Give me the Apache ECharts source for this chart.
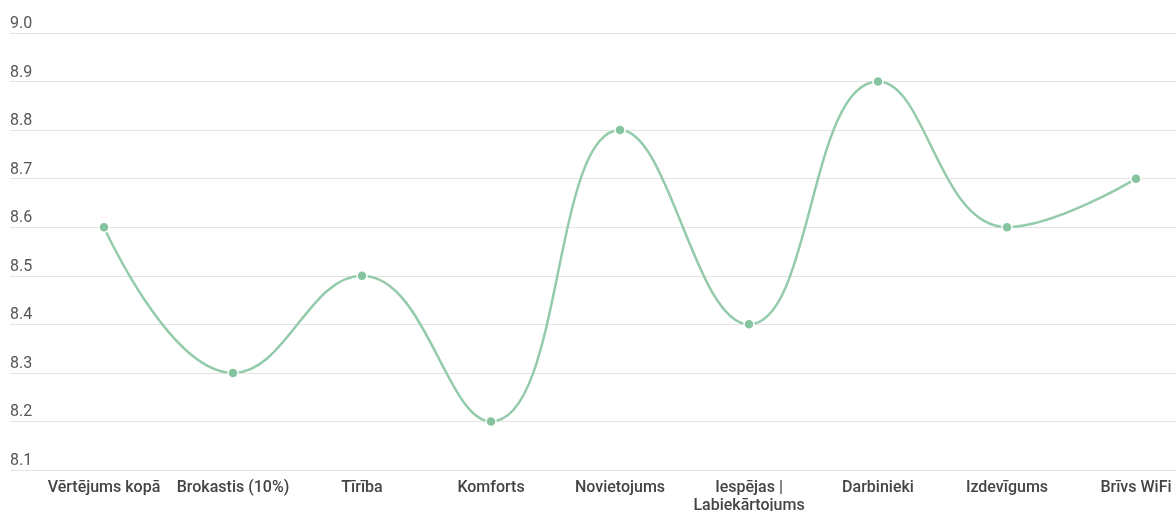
<!DOCTYPE html>
<html>
<head>
    <meta charset="utf-8">
    <title>Vērtējumi</title>
    <script src="https://cdn.jsdelivr.net/npm/echarts@6/dist/echarts.min.js"></script>
    <style>
        html, body { margin: 0; padding: 0; background: #fff; }
    </style>
</head>
<body>
    <div id="main" style="width: 1176px;height:511px;"></div>
    <script type="text/javascript">
        var categories = ['Vērtējums kopā', 'Brokastis (10%)', 'Tīrība', 'Komforts', 'Novietojums',
            'Iespējas |\nLabiekārtojums', 'Darbinieki', 'Izdevīgums', 'Brīvs WiFi'];
        var scores = [8.6, 8.3, 8.5, 8.2, 8.8, 8.4, 8.9, 8.6, 8.7];
        var yMin = 8.1, yMax = 9.0, yStep = 0.1;

        var myChart = echarts.init(document.getElementById('main'));

        var option = {
            animation: false,
            textStyle: { fontFamily: 'Roboto' },
            grid: [
                // background grid: full-width gridlines and labels
                { left: 10, right: 0, top: 33, bottom: 41, outerBoundsMode: 'none', containLabel: false },
                // series grid: where the points sit
                { left: 104, right: 40, top: 33, bottom: 41, outerBoundsMode: 'none', containLabel: false }
            ],
            xAxis: [
                { type: 'value', gridIndex: 0, show: false, min: 0, max: 1 },
                {
                    type: 'category', gridIndex: 1, data: categories, boundaryGap: false,
                    axisLine: { show: false },
                    axisTick: { show: false },
                    axisLabel: {
                        color: '#444', fontSize: 16, fontWeight: 500, margin: 9,
                        lineHeight: 18, interval: 0
                    }
                }
            ],
            yAxis: [
                {
                    type: 'value', gridIndex: 0, min: yMin, max: yMax, interval: yStep,
                    axisLine: { show: false },
                    axisTick: { show: false },
                    splitLine: { lineStyle: { color: '#e3e3e3', width: 1 } },
                    axisLabel: {
                        inside: true, margin: 0, verticalAlign: 'bottom', padding: [0, 0, 1, 0],
                        color: '#555', fontSize: 16,
                        formatter: function (v) { return v.toFixed(1); }
                    }
                },
                {
                    type: 'value', gridIndex: 1, min: yMin, max: yMax, interval: yStep, show: false
                }
            ],
            series: [{
                type: 'line',
                xAxisIndex: 1,
                yAxisIndex: 1,
                data: scores,
                smooth: 0.45,
                symbol: 'circle',
                symbolSize: 10,
                lineStyle: { color: '#93cbab', width: 2.5 },
                itemStyle: { color: '#86c49f', borderColor: '#fff', borderWidth: 1.5 }
            }]
        };

        myChart.setOption(option);
    </script>
</body>
</html>
